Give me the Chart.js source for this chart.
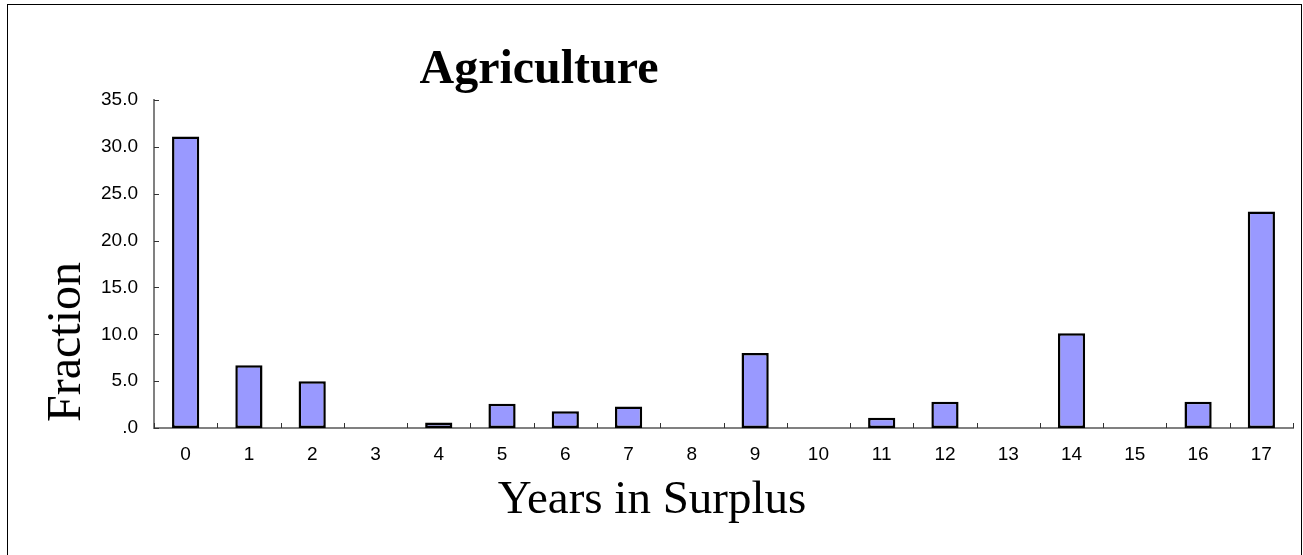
<!DOCTYPE html>
<html>
<head>
<meta charset="utf-8">
<script src="https://cdn.jsdelivr.net/npm/chart.js@4"></script>
<style>
  body { margin: 0; background: #fff; }
  #wrap { position: relative; width: 1303px; height: 555px; overflow: hidden; }
  #frame { position: absolute; left: 7px; top: 4px; width: 1293px; height: 600px; border: 1px solid #000; }
  .lbl { position: absolute; color: #000; font-family: "Liberation Serif", "Times New Roman", serif; white-space: nowrap; }
  #title { left: 539px; top: 43px; font-size: 48px; line-height: 48px; font-weight: bold; transform: translateX(-50%); }
  #xtitle { left: 652px; top: 474px; font-size: 47px; line-height: 47px; transform: translateX(-50%); }
  #ytitle { left: 64px; top: 342px; font-size: 48px; line-height: 48px; transform: translate(-50%, -50%) rotate(-90deg); }
  canvas { position: absolute; left: 0; top: 0; }
</style>
</head>
<body>
<div id="wrap">
  <div id="frame"></div>
  <canvas id="agriChart" width="1303" height="555"></canvas>
  <div class="lbl" id="title">Agriculture</div>
  <div class="lbl" id="xtitle">Years in Surplus</div>
  <div class="lbl" id="ytitle">Fraction</div>
</div>
<script>
const years = ['0', '1', '2', '3', '4', '5', '6', '7', '8', '9', '10', '11', '12', '13', '14', '15', '16', '17'];
const fraction = [31.1, 6.7, 5.0, null, 0.6, 2.6, 1.8, 2.3, null, 8.0, null, 1.1, 2.8, null, 10.1, null, 2.8, 23.1];
const yTicks = [0, 5, 10, 15, 20, 25, 30, 35];

// small tick marks pointing into the plot, like the original
const innerTicks = {
    id: 'innerTicks',
    afterDraw(c) {
        const ctx = c.ctx;
        const x = c.scales.x;
        const y = c.scales.y;
        const area = c.chartArea;
        ctx.save();
        ctx.strokeStyle = '#333';
        ctx.lineWidth = 1;
        ctx.beginPath();
        for (let i = 0; i <= years.length; i++) {
            const px = Math.round(x.getPixelForValue(i - 0.5)) + 0.5;
            ctx.moveTo(px, area.bottom);
            ctx.lineTo(px, area.bottom - 5);
        }
        y.ticks.forEach(t => {
            const py = Math.round(y.getPixelForValue(t.value)) + 0.5;
            ctx.moveTo(area.left, py);
            ctx.lineTo(area.left + 5, py);
        });
        ctx.stroke();
        ctx.restore();
    }
};

new Chart(document.getElementById('agriChart').getContext('2d'), {
    type: 'bar',
    data: {
        labels: years,
        datasets: [{
            label: 'Fraction',
            data: fraction,
            backgroundColor: '#9999ff',
            borderColor: '#000',
            borderWidth: 2.5,
            borderSkipped: false,
            categoryPercentage: 1,
            barPercentage: 0.43
        }]
    },
    options: {
        responsive: false,
        animation: false,
        layout: { padding: { left: 0, right: 10, top: 100, bottom: 0 } },
        plugins: {
            legend: { display: false },
            tooltip: { enabled: false },
            title: { display: false }
        },
        scales: {
            x: {
                offset: true,
                grid: { display: false, drawTicks: false, tickLength: 0 },
                border: { color: '#808080', width: 2 },
                ticks: {
                    padding: 15,
                    color: '#000',
                    font: { family: 'Arial, "Liberation Sans", sans-serif', size: 19 },
                    maxRotation: 0,
                    autoSkip: false
                },
                afterFit: s => { s.height = 127; }
            },
            y: {
                min: 0,
                max: 35,
                grid: { display: false, drawTicks: false, tickLength: 0 },
                border: { color: '#808080', width: 2 },
                afterBuildTicks: s => { s.ticks = yTicks.map(v => ({ value: v })); },
                ticks: {
                    padding: 16,
                    color: '#000',
                    font: { family: 'Arial, "Liberation Sans", sans-serif', size: 19 },
                    callback: v => v.toFixed(1).replace(/^0\./, '.')
                },
                afterFit: s => { s.width = 154; }
            }
        }
    },
    plugins: [innerTicks]
});
</script>
</body>
</html>
